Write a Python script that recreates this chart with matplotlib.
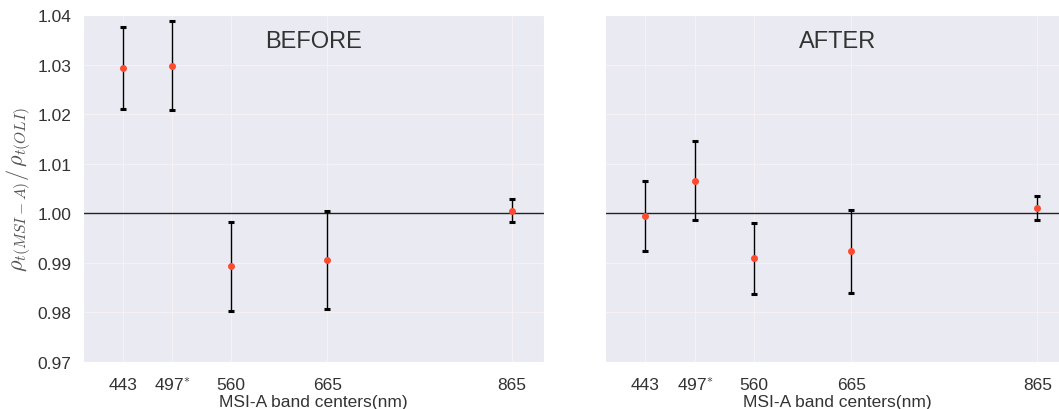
import matplotlib
matplotlib.use('Agg')
import matplotlib.pyplot as plt
import seaborn as sns

# band centers (nm) and tick labels
bandas = [443, 497, 560, 665, 865]
rotulos = ['443', '497$^{\\mathbf{*}}$', '560', '665', '865']

# ratio rho_t(MSI-A)/rho_t(OLI): mean and +/- errors
antes = [1.0293, 1.0298, 0.9893, 0.9905, 1.0005]
antes_err = [0.0082, 0.0090, 0.0090, 0.0099, 0.0023]

depois = [0.9995, 1.0066, 0.9909, 0.9923, 1.0010]
depois_err = [0.0071, 0.0080, 0.0071, 0.0084, 0.0024]

sns.set_style('darkgrid', {'grid.color': '#f6f1f5', 'axes.facecolor': '#eaeaf2'})
plt.rcParams['font.family'] = ['Liberation Sans', 'DejaVu Sans']
plt.rcParams['mathtext.fontset'] = 'cm'
plt.rcParams['grid.linewidth'] = 0.9

fig = plt.figure(figsize=(10.59, 4.10), dpi=100)
ax1 = fig.add_axes([0.0784, 0.1146, 0.4353, 0.8463])
ax2 = fig.add_axes([0.5713, 0.1146, 0.4390, 0.8463], sharey=ax1)


# Função para desenhar um painel
def painel(ax, valores, erros, titulo):
    ax.axhline(1.0, color='#222222', lw=1.0, zorder=1)
    ax.errorbar(bandas, valores, yerr=erros, fmt='o', color='#ff4a2e',
                ms=4, ecolor='black', elinewidth=1.0, capsize=2.5,
                capthick=2.2, zorder=3)
    ax.set_xlim(400, 900)
    ax.set_ylim(0.97, 1.04)
    ax.set_xticks(bandas)
    ax.set_xticklabels(rotulos)
    ax.set_yticks([0.97, 0.98, 0.99, 1.00, 1.01, 1.02, 1.03, 1.04])
    ax.tick_params(axis='x', labelsize=12.5, pad=7, colors='#333333')
    ax.tick_params(axis='y', labelsize=12.5, pad=5, colors='#333333')
    ax.set_xlabel('MSI-A band centers(nm)', fontsize=12.5, color='#333333',
                  labelpad=0)
    ax.text(0.5, 0.925, titulo, transform=ax.transAxes, ha='center',
            va='center', fontsize=17, color='#333333')


painel(ax1, antes, antes_err, 'BEFORE')
painel(ax2, depois, depois_err, 'AFTER')
ax2.tick_params(axis='y', labelleft=False)

ax1.set_ylabel(r'$\rho_{t(MSI-A)}/\,\rho_{t(OLI)}$', fontsize=16,
               color='#555555')
ax1.yaxis.set_label_coords(-0.108, 0.5)

fig.savefig('out.png', dpi=100)
